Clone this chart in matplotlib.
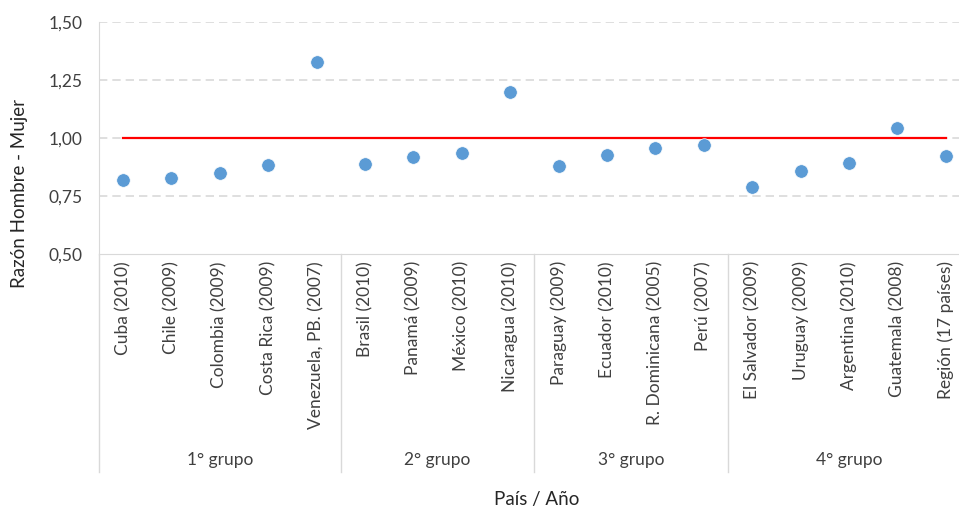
import matplotlib
matplotlib.use("Agg")
import matplotlib.pyplot as plt
import matplotlib.transforms as mtransforms

plt.rcParams['font.family'] = ['Lato', 'DejaVu Sans']

categories = ["Cuba (2010)", "Chile (2009)", "Colombia (2009)", "Costa Rica (2009)",
              "Venezuela, PB. (2007)", "Brasil (2010)", "Panamá (2009)", "México (2010)",
              "Nicaragua (2010)", "Paraguay (2009)", "Ecuador (2010)", "R. Dominicana (2005)",
              "Perú (2007)", "El Salvador (2009)", "Uruguay (2009)", "Argentina (2010)",
              "Guatemala (2008)", "Región (17 países)"]
values = [0.821, 0.826, 0.851, 0.883, 1.328, 0.887, 0.917, 0.934, 1.198,
          0.878, 0.926, 0.957, 0.969, 0.791, 0.856, 0.891, 1.043, 0.921]
groups = ["1° grupo", "2° grupo", "3° grupo", "4° grupo"]
group_sizes = [5, 4, 4, 5]
yticks = [0.50, 0.75, 1.00, 1.25, 1.50]
ytick_labels = ["0,50", "0,75", "1,00", "1,25", "1,50"]
reference = 1.0

W, H = 959, 507
fig = plt.figure(figsize=(W / 100, H / 100), dpi=100)
left_px, right_px, top_px, bot_px = 98.8, 970.0, 21.7, 254.3
ax = fig.add_axes([left_px / W, 1 - bot_px / H, (right_px - left_px) / W, (bot_px - top_px) / H])

text_color = "#404040"
label_color = "#262626"
grid_color = "#D9D9D9"
x = list(range(len(categories)))

ax.set_xlim(-0.5, len(categories) - 0.5)
ax.set_ylim(0.5, 1.5)
for t in yticks[1:]:
    ax.axhline(t, color=grid_color, lw=1.2, ls=(0, (5, 3)), zorder=1)
ax.plot([x[0], x[-1]], [reference, reference], color="#FF0000", lw=1.6, zorder=2)
ax.scatter(x, values, s=95, color="#5B9BD5", edgecolors="white", linewidths=0.5, zorder=3)

for s in ["top", "right"]:
    ax.spines[s].set_visible(False)
ax.spines["left"].set_color(grid_color)
ax.spines["bottom"].set_color(grid_color)

ax.set_yticks(yticks)
ax.set_yticklabels(ytick_labels, fontsize=12.5, color=text_color)
ax.tick_params(axis="y", length=0, pad=12)
ax.set_xticks(x)
ax.set_xticklabels(categories, rotation=90, fontsize=12.5, color=text_color, va="top", ha="center")
ax.tick_params(axis="x", length=0, pad=5)

trans = mtransforms.blended_transform_factory(ax.transData, ax.transAxes)
ext = -(472 - bot_px) / (bot_px - top_px)
lab_y = -(460 - bot_px) / (bot_px - top_px)
bounds = [-0.5]
for n in group_sizes:
    bounds.append(bounds[-1] + n)
for b in bounds[:-1]:
    ax.plot([b, b], [0, ext], transform=trans, color=grid_color, lw=1, clip_on=False)
for i, g in enumerate(groups):
    cx = (bounds[i] + bounds[i + 1]) / 2
    ax.text(cx, lab_y, g, transform=trans, ha="center", va="center", fontsize=12.5, color=text_color)

fig.text(537 / W, 1 - 499 / H, "País / Año", ha="center", va="center", fontsize=13.5, color=label_color)
fig.text(20 / W, 1 - 193 / H, "Razón Hombre - Mujer", ha="center", va="center", rotation=90,
         fontsize=13.5, color=label_color)

fig.savefig("out.png", dpi=100)
